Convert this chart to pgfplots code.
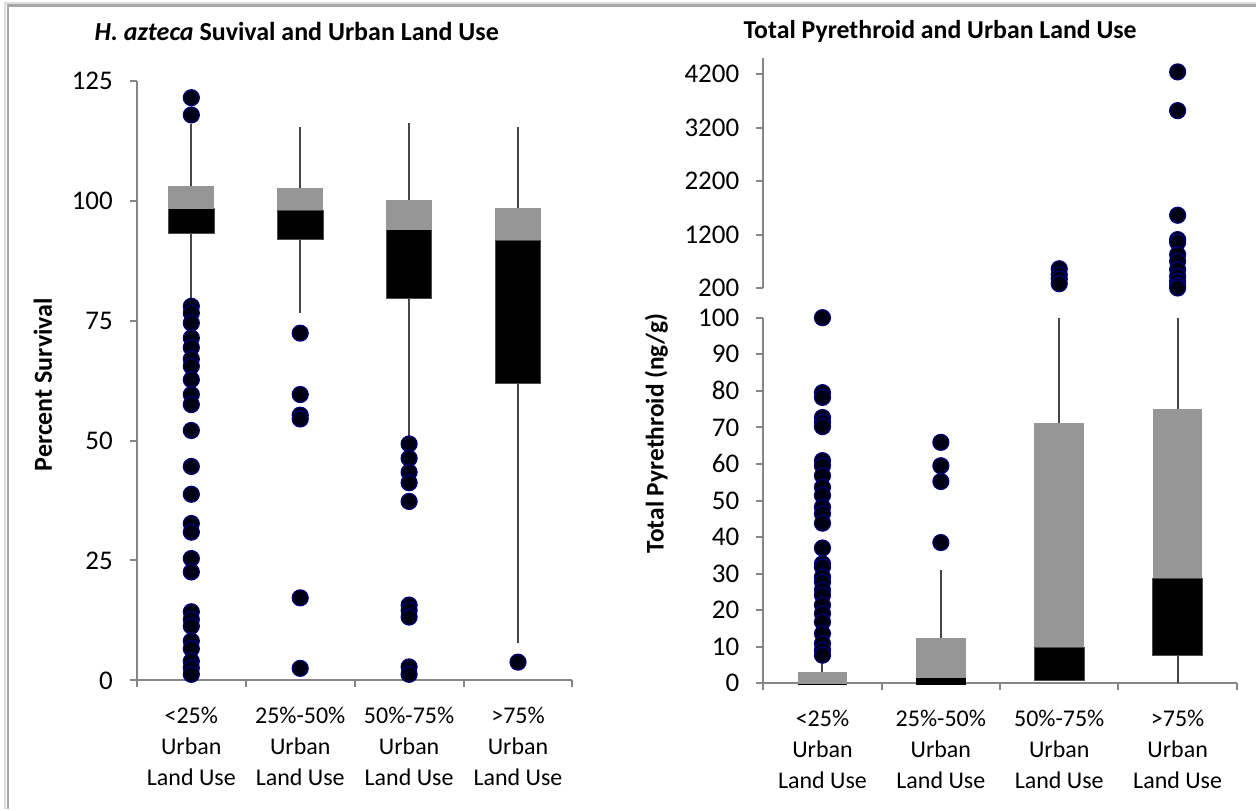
\documentclass[border=0pt]{standalone}
\usepackage{pgfplots}
\pgfplotsset{compat=1.18}
\usepackage{fontspec}
\setmainfont{Carlito}
\definecolor{boxgray}{RGB}{150,150,150}
\definecolor{axgray}{RGB}{134,134,134}
\definecolor{whisk}{RGB}{70,70,70}
\definecolor{dotfill}{RGB}{0,0,20}
\definecolor{dotedge}{RGB}{0,0,120}
\definecolor{framegray}{RGB}{166,166,166}
\definecolor{framelight}{RGB}{220,220,220}
\pgfplotsset{
  excel/.style={
    scale only axis,
    anchor=south west,
    clip=false,
    axis x line=bottom,
    axis y line=left,
    axis line style={-, draw=axgray, line width=1pt},
    tick style={axgray, line width=1pt},
    tick align=outside,
    major tick length=3.5pt,
    /pgf/number format/assume math mode=true,
    /pgf/number format/1000 sep={},
    yticklabel style={font=\fontsize{13.5}{15}\selectfont, text=black, xshift=-5pt},
    xmin=0.5, xmax=4.5,
    xtick={0.5,1.5,2.5,3.5,4.5},
    x tick label as interval,
    xticklabels={{<25\%\\Urban\\Land Use},{25\%-50\%\\Urban\\Land Use},{50\%-75\%\\Urban\\Land Use},{>75\%\\Urban\\Land Use}},
    xticklabel style={align=center, font=\fontsize{12}{15.5}\selectfont, text=black, yshift=-6.5pt},
  },
  whisker/.style={whisk, line width=1pt, forget plot},
  outl/.style={only marks, mark=*, mark size=4pt, mark options={fill=dotfill, draw=dotedge, line width=0.6pt}},
}
\begin{document}
\begin{tikzpicture}
\path (0pt,0pt) rectangle (628.5pt,405pt);
\draw[line width=1pt, framelight] (2.75pt,0pt) -- (2.75pt,403.25pt) -- (628.5pt,403.25pt);
\draw[line width=1.2pt, framegray] (4pt,0pt) -- (4pt,402.25pt) -- (628.5pt,402.25pt);

% ---------------- Left panel ----------------
\begin{axis}[excel, at={(68.5pt,64.5pt)}, width=218pt, height=300pt,
  ymin=0, ymax=125, ytick={0,25,50,75,100,125}]
  % whiskers
  \addplot[whisker] coordinates {(1,79.4) (1,116.0)};
  \addplot[whisker] coordinates {(2,76.6) (2,115.3)};
  \addplot[whisker] coordinates {(3,50.6) (3,116.3)};
  \addplot[whisker] coordinates {(4,7.8) (4,115.3)};
  % lower box (Q1 to median), black
  \addplot[fill=black, draw=black!70, line width=0.5pt] coordinates {(0.79,93.1) (1.21,93.1) (1.21,98.3) (0.79,98.3)} -- cycle;
  \addplot[fill=black, draw=black!70, line width=0.5pt] coordinates {(1.79,91.9) (2.21,91.9) (2.21,98.0) (1.79,98.0)} -- cycle;
  \addplot[fill=black, draw=black!70, line width=0.5pt] coordinates {(2.79,79.7) (3.21,79.7) (3.21,94.0) (2.79,94.0)} -- cycle;
  \addplot[fill=black, draw=black!70, line width=0.5pt] coordinates {(3.79,62.0) (4.21,62.0) (4.21,91.8) (3.79,91.8)} -- cycle;
  % upper box (median to Q3), gray
  \addplot[fill=boxgray, draw=none] coordinates {(0.79,98.3) (1.21,98.3) (1.21,103.1) (0.79,103.1)} -- cycle;
  \addplot[fill=boxgray, draw=none] coordinates {(1.79,98.0) (2.21,98.0) (2.21,102.6) (1.79,102.6)} -- cycle;
  \addplot[fill=boxgray, draw=none] coordinates {(2.79,94.0) (3.21,94.0) (3.21,100.1) (2.79,100.1)} -- cycle;
  \addplot[fill=boxgray, draw=none] coordinates {(3.79,91.8) (4.21,91.8) (4.21,98.6) (3.79,98.6)} -- cycle;
  % outliers
  \addplot[outl] table {
x y
1 121.5
1 117.9
1 78.0
1 76.6
1 74.5
1 71.4
1 69.4
1 67.0
1 65.5
1 62.7
1 59.6
1 57.5
1 52.1
1 44.6
1 38.8
1 32.7
1 30.9
1 25.4
1 22.6
1 14.3
1 12.7
1 11.3
1 8.2
1 6.6
1 4.0
1 2.6
1 1.25
2 72.4
2 59.6
2 55.3
2 54.5
2 17.2
2 2.5
3 49.3
3 46.3
3 43.4
3 41.2
3 37.3
3 15.7
3 14.6
3 13.2
3 2.8
3 1.25
4 3.8
};
\end{axis}

% ---------------- Right panel, lower ----------------
\begin{axis}[excel, at={(382pt,63pt)}, width=237pt, height=183pt,
  ymin=0, ymax=100, ytick={0,10,...,100}]
  \addplot[whisker] coordinates {(1,3.0) (1,6.0)};
  \addplot[whisker] coordinates {(2,12.5) (2,31.1)};
  \addplot[whisker] coordinates {(3,0.7) (3,100)};
  \addplot[whisker] coordinates {(4,0) (4,100)};
  \addplot[fill=boxgray, draw=none] coordinates {(0.79,-0.05) (1.21,-0.05) (1.21,3.0) (0.79,3.0)} -- cycle;
  \addplot[fill=boxgray, draw=none] coordinates {(1.79,1.4) (2.21,1.4) (2.21,12.5) (1.79,12.5)} -- cycle;
  \addplot[fill=boxgray, draw=none] coordinates {(2.79,9.8) (3.21,9.8) (3.21,71.3) (2.79,71.3)} -- cycle;
  \addplot[fill=boxgray, draw=none] coordinates {(3.79,28.6) (4.21,28.6) (4.21,75.0) (3.79,75.0)} -- cycle;
  \addplot[fill=black, draw=none] coordinates {(0.79,-0.4) (1.21,-0.4) (1.21,-0.05) (0.79,-0.05)} -- cycle;
  \addplot[fill=black, draw=none] coordinates {(1.79,-0.4) (2.21,-0.4) (2.21,1.4) (1.79,1.4)} -- cycle;
  \addplot[fill=black, draw=black!70, line width=0.5pt] coordinates {(2.79,0.7) (3.21,0.7) (3.21,9.8) (2.79,9.8)} -- cycle;
  \addplot[fill=black, draw=black!70, line width=0.5pt] coordinates {(3.79,7.5) (4.21,7.5) (4.21,28.6) (3.79,28.6)} -- cycle;
  \addplot[outl] table {
x y
1 100
1 79.5
1 78.2
1 72.7
1 71.4
1 70.2
1 60.9
1 59.5
1 56.8
1 53.6
1 51.4
1 48.2
1 46.4
1 43.8
1 37.0
1 32.7
1 31.8
1 29.1
1 27.7
1 25.5
1 24.1
1 21.4
1 19.1
1 16.8
1 13.6
1 10.9
1 9.1
1 7.7
2 65.9
2 59.5
2 55.2
2 38.5
};
\end{axis}

% ---------------- Right panel, upper ----------------
\begin{axis}[excel, at={(382pt,260.85pt)}, width=237pt, height=115pt,
  axis x line=none,
  ymin=200, ymax=4500, ytick={200,1200,2200,3200,4200}]
  \addplot[outl] table {
x y
3 560
3 450
3 370
3 280
4 4244
4 3519
4 1562
4 1106
4 1056
4 825
4 700
4 544
4 419
4 325
4 244
4 200
};
\end{axis}

% titles and axis labels
\node[font=\bfseries\fontsize{13}{15}\selectfont] at (148.5pt,389pt) {\textit{H. azteca} Suvival and Urban Land Use};
\node[font=\bfseries\fontsize{12.9}{15}\selectfont] at (470.5pt,389pt) {Total Pyrethroid and Urban Land Use};
\node[font=\bfseries\fontsize{13}{15}\selectfont, rotate=90] at (21.5pt,212.5pt) {Percent Survival};
\node[font=\bfseries\fontsize{12.7}{15}\selectfont, rotate=90] at (328.5pt,188pt) {Total Pyrethroid (ng/g)};
\end{tikzpicture}
\end{document}
